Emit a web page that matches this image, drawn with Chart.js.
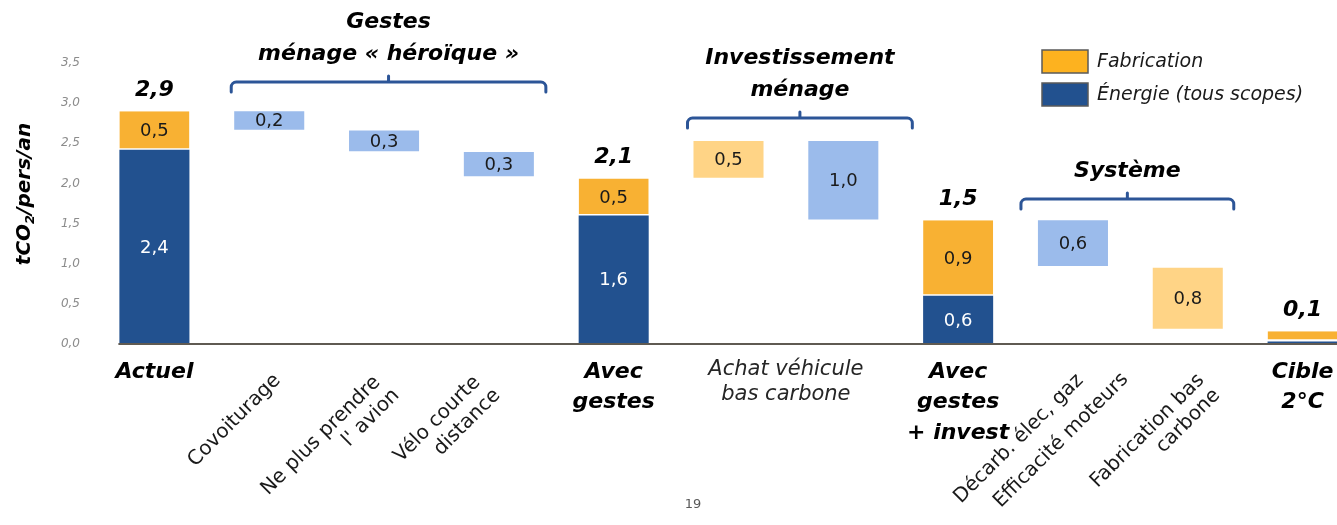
<!DOCTYPE html>
<html>
<head>
<meta charset="utf-8">
<script src="https://cdn.jsdelivr.net/npm/chart.js@4.4.1/dist/chart.umd.min.js"></script>
<style>
html, body { margin: 0; padding: 0; background: #fff; overflow: hidden; }
#wrap { position: relative; width: 1362px; height: 525px; }
</style>
</head>
<body>
<div id="wrap"><canvas id="waterfall"></canvas></div>
<script>
// categories (multi-line labels)
var categories = [
  ['Actuel'],
  ['Covoiturage'],
  ['Ne plus prendre', "l' avion"],
  ['Vélo courte', 'distance'],
  ['Avec', 'gestes'],
  ['Achat véhicule', 'bas carbone'],
  [''],
  ['Avec', 'gestes', '+ invest'],
  ['Décarb. élec, gaz', 'Efficacité moteurs'],
  ['Fabrication bas', 'carbone'],
  ['Cible', '2°C']
];

// floating bars [start, end] in tCO2/pers/an
var energie = [[0, 2.42], null, null, null, [0, 1.6], null, null, [0, 0.6], null, null, [0, 0.03]];
var fabrication = [[2.42, 2.9], null, null, null, [1.6, 2.06], null, null, [0.6, 1.54], null, null, [0.04, 0.16]];
var gainsEnergie = [null, [2.67, 2.9], [2.4, 2.66], [2.09, 2.39], null, null, [1.55, 2.53], null, [0.97, 1.54], null, null];
var gainsFabrication = [null, null, null, null, null, [2.07, 2.53], null, null, null, [0.19, 0.95], null];
var totaux = [2.9, null, null, null, 2.1, null, null, 1.5, null, null, 0.1];

var yMin = 0, yMax = 3.5, yStep = 0.5;

var groupes = [
  { titre: ['Gestes', 'ménage « héroïque »'], de: 1, a: 3 },
  { titre: ['Investissement', 'ménage'], de: 5, a: 6 },
  { titre: ['Système'], de: 8, a: 9 }
];

var FONT = "'DejaVu Sans', sans-serif";
var fmt = function(v) { return v.toFixed(1).replace('.', ','); };

// label layout (style only)
var xLabelStyle = [
  { kind: 'bold' },
  { kind: 'rot', ends: [[4, 373]] },
  { kind: 'rot', ends: [[-11, 375], [8, 388]] },
  { kind: 'rot', ends: [[-26, 375], [-6, 388]] },
  { kind: 'bold' },
  { kind: 'plain' },
  null,
  { kind: 'bold' },
  { kind: 'rot', ends: [[3, 373], [48, 372]] },
  { kind: 'rot', ends: [[9, 373], [25, 388]] },
  { kind: 'bold' }
];
var braceStyle = [
  { l: -38, r: 47, y: 82 },
  { l: -41, r: 69, y: 118 },
  { l: -52, r: 46, y: 199 }
];

var decor = {
  id: 'decor',
  afterDatasetsDraw: function(chart) {
    var ctx = chart.ctx;
    var xs = chart.scales.x, ys = chart.scales.y;
    var area = chart.chartArea;
    var barW = chart.getDatasetMeta(0).data[0].width;

    // baseline
    ctx.save();
    ctx.strokeStyle = '#5f5a52';
    ctx.lineWidth = 2;
    ctx.beginPath();
    ctx.moveTo(xs.getPixelForValue(0) - barW / 2 - 1, ys.getPixelForValue(0));
    ctx.lineTo(area.right + 5, ys.getPixelForValue(0));
    ctx.stroke();
    ctx.restore();

    // values inside bars
    ctx.save();
    ctx.textAlign = 'center';
    ctx.textBaseline = 'middle';
    ctx.font = '18px ' + FONT;
    chart.data.datasets.forEach(function(ds, di) {
      var meta = chart.getDatasetMeta(di);
      ds.data.forEach(function(d, i) {
        if (!d || d[1] - d[0] < 0.15) return;
        var el = meta.data[i];
        ctx.fillStyle = di === 0 ? '#ffffff' : '#1a1a1a';
        ctx.fillText(fmt(d[1] - d[0]), el.x, (el.y + el.base) / 2 + 1);
      });
    });

    // totals above stacks
    ctx.font = 'italic bold 22px ' + FONT;
    ctx.fillStyle = '#000';
    totaux.forEach(function(t, i) {
      if (t === null) return;
      var top = Math.max(energie[i] ? energie[i][1] : 0, fabrication[i] ? fabrication[i][1] : 0);
      ctx.fillText(fmt(t), xs.getPixelForValue(i), ys.getPixelForValue(top) - 21);
    });
    ctx.restore();
  },
  afterDraw: function(chart) {
    var ctx = chart.ctx;
    var xs = chart.scales.x;

    // x labels
    ctx.save();
    ctx.fillStyle = '#000';
    categories.forEach(function(lines, i) {
      var st = xLabelStyle[i];
      if (!st) return;
      var cx = xs.getPixelForValue(i);
      if (st.kind === 'bold') {
        ctx.font = 'italic bold 22px ' + FONT;
        ctx.textAlign = 'center';
        ctx.textBaseline = 'middle';
        lines.forEach(function(s, k) { ctx.fillText(s, cx, 372 + k * 30.5); });
      } else if (st.kind === 'plain') {
        cx = (xs.getPixelForValue(i) + xs.getPixelForValue(i + 1)) / 2;
        ctx.font = 'italic 21px ' + FONT;
        ctx.fillStyle = '#262626';
        ctx.textAlign = 'center';
        ctx.textBaseline = 'middle';
        lines.forEach(function(s, k) { ctx.fillText(s, cx, 370 + k * 25); });
        ctx.fillStyle = '#000';
      } else {
        ctx.font = '20px ' + FONT;
        ctx.fillStyle = '#1a1a1a';
        ctx.textAlign = 'right';
        ctx.textBaseline = 'alphabetic';
        lines.forEach(function(s, k) {
          var e = st.ends[k];
          ctx.save();
          ctx.translate(cx + e[0] + 8, e[1] + 8);
          ctx.rotate(-Math.PI / 4);
          ctx.fillText(s, 0, 0);
          ctx.restore();
        });
        ctx.fillStyle = '#000';
      }
    });
    ctx.restore();

    // braces + group titles
    ctx.save();
    groupes.forEach(function(g, gi) {
      var b = braceStyle[gi];
      var x1 = xs.getPixelForValue(g.de) + b.l;
      var x2 = xs.getPixelForValue(g.a) + b.r;
      var xm = (x1 + x2) / 2, y = b.y;
      ctx.strokeStyle = '#2c5597';
      ctx.lineWidth = 3;
      ctx.lineCap = 'round';
      ctx.beginPath();
      ctx.moveTo(x1, y + 10);
      ctx.lineTo(x1, y + 5);
      ctx.arcTo(x1, y, x1 + 5, y, 5);
      ctx.lineTo(x2 - 5, y);
      ctx.arcTo(x2, y, x2, y + 5, 5);
      ctx.lineTo(x2, y + 10);
      ctx.moveTo(xm, y);
      ctx.lineTo(xm, y - 6);
      ctx.stroke();

      ctx.fillStyle = '#000';
      ctx.font = 'italic bold 22px ' + FONT;
      ctx.textAlign = 'center';
      ctx.textBaseline = 'middle';
      var n = g.titre.length;
      g.titre.forEach(function(s, k) {
        ctx.fillText(s, xm, y - 28 - (n - 1 - k) * 32);
      });
    });
    ctx.restore();

    // legend
    ctx.save();
    var leg = [chart.data.datasets[1], chart.data.datasets[0]];
    leg.forEach(function(ds, k) {
      var ty = 50 + k * 33;
      ctx.fillStyle = k === 0 ? '#fdb21f' : ds.backgroundColor;
      ctx.fillRect(1042, ty, 46, 23);
      ctx.strokeStyle = '#5a5a5a';
      ctx.lineWidth = 1.5;
      ctx.strokeRect(1042, ty, 46, 23);
      ctx.fillStyle = '#1a1a1a';
      ctx.font = 'italic 19px ' + FONT;
      ctx.textAlign = 'left';
      ctx.textBaseline = 'middle';
      ctx.fillText(ds.label, 1097, ty + 12);
    });
    ctx.restore();

    // y title with subscript
    ctx.save();
    ctx.translate(25, 194);
    ctx.rotate(-Math.PI / 2);
    ctx.fillStyle = '#000';
    ctx.textBaseline = 'middle';
    var f1 = 'italic bold 20px ' + FONT, f2 = 'italic bold 13px ' + FONT;
    ctx.font = f1; var w1 = ctx.measureText('tCO').width, w3 = ctx.measureText('/pers/an').width;
    ctx.font = f2; var w2 = ctx.measureText('2').width;
    var x0 = -(w1 + w2 + w3) / 2;
    ctx.textAlign = 'left';
    ctx.font = f1; ctx.fillText('tCO', x0, 0);
    ctx.font = f2; ctx.fillText('2', x0 + w1, 6);
    ctx.font = f1; ctx.fillText('/pers/an', x0 + w1 + w2, 0);
    ctx.restore();

    // page number
    ctx.save();
    ctx.fillStyle = '#595959';
    ctx.font = '13px ' + FONT;
    ctx.textAlign = 'center';
    ctx.textBaseline = 'middle';
    ctx.fillText('19', 693, 505);
    ctx.restore();
  }
};

var ctx = document.getElementById('waterfall').getContext('2d');
var common = { grouped: false, barPercentage: 0.61, categoryPercentage: 1, borderSkipped: false };
var myChart = new Chart(ctx, {
  type: 'bar',
  data: {
    labels: categories,
    datasets: [
      Object.assign({ label: 'Énergie (tous scopes)', data: energie, backgroundColor: '#22518f', borderWidth: 0 }, common),
      Object.assign({ label: 'Fabrication', data: fabrication, backgroundColor: '#f8b133',
        borderColor: '#ffffff', borderWidth: { top: 0, left: 0, right: 0, bottom: 1.5 } }, common),
      Object.assign({ label: 'Gains énergie', data: gainsEnergie, backgroundColor: '#9bbbeb', borderWidth: 0 }, common),
      Object.assign({ label: 'Gains fabrication', data: gainsFabrication, backgroundColor: '#ffd486', borderWidth: 0 }, common)
    ]
  },
  options: {
    responsive: true,
    maintainAspectRatio: false,
    animation: false,
    layout: { padding: { top: 63, bottom: 181, left: 0, right: 2 } },
    plugins: { legend: { display: false }, tooltip: { enabled: false } },
    scales: {
      x: { display: false },
      y: {
        min: yMin,
        max: yMax,
        grid: { display: false, drawTicks: false },
        border: { display: false },
        ticks: {
          stepSize: yStep,
          padding: 17,
          color: '#8c8c8c',
          font: { family: FONT, size: 12, style: 'italic' },
          callback: function(v) { return fmt(v); }
        },
        afterFit: function(scale) { scale.width = 97; }
      }
    }
  },
  plugins: [decor]
});
</script>
</body>
</html>
